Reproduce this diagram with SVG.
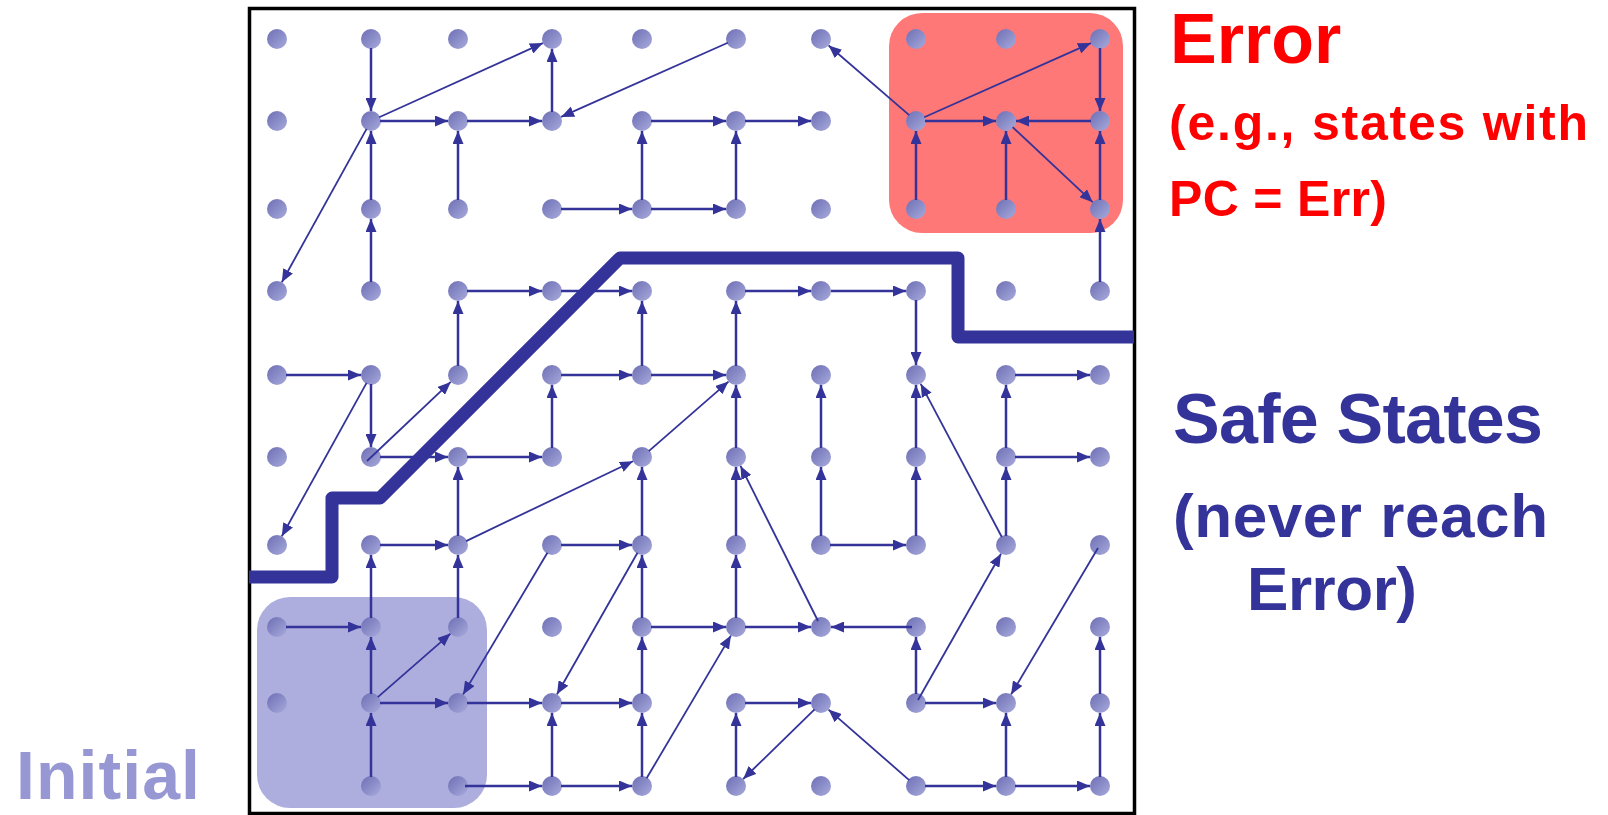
<svg xmlns="http://www.w3.org/2000/svg" width="1608" height="815" viewBox="0 0 1608 815">
<style>
.dot{fill:url(#dg)}
.e{stroke:#333399;stroke-width:2.5;fill:none;marker-end:url(#ah)}
.d{stroke:#333399;stroke-width:1.8;fill:none;marker-end:url(#ah)}
.lbl{font-family:"Liberation Sans",Arial,sans-serif;font-weight:bold}
</style>
<defs>
<linearGradient id="dg" x1="0" y1="0" x2="1" y2="1">
<stop offset="0" stop-color="#6c6eb4"/>
<stop offset="1" stop-color="#a8aadc"/>
</linearGradient>
<marker id="ah" markerUnits="userSpaceOnUse" markerWidth="13" markerHeight="11" viewBox="0 0 13 11" refX="13" refY="5.5" orient="auto">
<path d="M0,0 L13,5.5 L0,11 z" fill="#333399"/>
</marker>
</defs>
<rect width="1608" height="815" fill="#ffffff"/>
<rect x="249.5" y="8.5" width="885" height="805" fill="none" stroke="#000000" stroke-width="3.5"/>
<g id="error-region"><rect x="889" y="13" width="234" height="220" rx="33" fill="#ff7878"/></g>
<g id="initial-region"><rect x="257" y="597" width="230" height="211" rx="33" fill="#adaedd"/></g>
<g id="nodes">
<g id="n0-0"><circle class="dot" cx="277" cy="39" r="10"/></g>
<g id="n1-0"><circle class="dot" cx="371" cy="39" r="10"/></g>
<g id="n2-0"><circle class="dot" cx="458" cy="39" r="10"/></g>
<g id="n3-0"><circle class="dot" cx="552" cy="39" r="10"/></g>
<g id="n4-0"><circle class="dot" cx="642" cy="39" r="10"/></g>
<g id="n5-0"><circle class="dot" cx="736" cy="39" r="10"/></g>
<g id="n6-0"><circle class="dot" cx="821" cy="39" r="10"/></g>
<g id="n7-0"><circle class="dot" cx="916" cy="39" r="10"/></g>
<g id="n8-0"><circle class="dot" cx="1006" cy="39" r="10"/></g>
<g id="n9-0"><circle class="dot" cx="1100" cy="39" r="10"/></g>
<g id="n0-1"><circle class="dot" cx="277" cy="121" r="10"/></g>
<g id="n1-1"><circle class="dot" cx="371" cy="121" r="10"/></g>
<g id="n2-1"><circle class="dot" cx="458" cy="121" r="10"/></g>
<g id="n3-1"><circle class="dot" cx="552" cy="121" r="10"/></g>
<g id="n4-1"><circle class="dot" cx="642" cy="121" r="10"/></g>
<g id="n5-1"><circle class="dot" cx="736" cy="121" r="10"/></g>
<g id="n6-1"><circle class="dot" cx="821" cy="121" r="10"/></g>
<g id="n7-1"><circle class="dot" cx="916" cy="121" r="10"/></g>
<g id="n8-1"><circle class="dot" cx="1006" cy="121" r="10"/></g>
<g id="n9-1"><circle class="dot" cx="1100" cy="121" r="10"/></g>
<g id="n0-2"><circle class="dot" cx="277" cy="209" r="10"/></g>
<g id="n1-2"><circle class="dot" cx="371" cy="209" r="10"/></g>
<g id="n2-2"><circle class="dot" cx="458" cy="209" r="10"/></g>
<g id="n3-2"><circle class="dot" cx="552" cy="209" r="10"/></g>
<g id="n4-2"><circle class="dot" cx="642" cy="209" r="10"/></g>
<g id="n5-2"><circle class="dot" cx="736" cy="209" r="10"/></g>
<g id="n6-2"><circle class="dot" cx="821" cy="209" r="10"/></g>
<g id="n7-2"><circle class="dot" cx="916" cy="209" r="10"/></g>
<g id="n8-2"><circle class="dot" cx="1006" cy="209" r="10"/></g>
<g id="n9-2"><circle class="dot" cx="1100" cy="209" r="10"/></g>
<g id="n0-3"><circle class="dot" cx="277" cy="291" r="10"/></g>
<g id="n1-3"><circle class="dot" cx="371" cy="291" r="10"/></g>
<g id="n2-3"><circle class="dot" cx="458" cy="291" r="10"/></g>
<g id="n3-3"><circle class="dot" cx="552" cy="291" r="10"/></g>
<g id="n4-3"><circle class="dot" cx="642" cy="291" r="10"/></g>
<g id="n5-3"><circle class="dot" cx="736" cy="291" r="10"/></g>
<g id="n6-3"><circle class="dot" cx="821" cy="291" r="10"/></g>
<g id="n7-3"><circle class="dot" cx="916" cy="291" r="10"/></g>
<g id="n8-3"><circle class="dot" cx="1006" cy="291" r="10"/></g>
<g id="n9-3"><circle class="dot" cx="1100" cy="291" r="10"/></g>
<g id="n0-4"><circle class="dot" cx="277" cy="375" r="10"/></g>
<g id="n1-4"><circle class="dot" cx="371" cy="375" r="10"/></g>
<g id="n2-4"><circle class="dot" cx="458" cy="375" r="10"/></g>
<g id="n3-4"><circle class="dot" cx="552" cy="375" r="10"/></g>
<g id="n4-4"><circle class="dot" cx="642" cy="375" r="10"/></g>
<g id="n5-4"><circle class="dot" cx="736" cy="375" r="10"/></g>
<g id="n6-4"><circle class="dot" cx="821" cy="375" r="10"/></g>
<g id="n7-4"><circle class="dot" cx="916" cy="375" r="10"/></g>
<g id="n8-4"><circle class="dot" cx="1006" cy="375" r="10"/></g>
<g id="n9-4"><circle class="dot" cx="1100" cy="375" r="10"/></g>
<g id="n0-5"><circle class="dot" cx="277" cy="457" r="10"/></g>
<g id="n1-5"><circle class="dot" cx="371" cy="457" r="10"/></g>
<g id="n2-5"><circle class="dot" cx="458" cy="457" r="10"/></g>
<g id="n3-5"><circle class="dot" cx="552" cy="457" r="10"/></g>
<g id="n4-5"><circle class="dot" cx="642" cy="457" r="10"/></g>
<g id="n5-5"><circle class="dot" cx="736" cy="457" r="10"/></g>
<g id="n6-5"><circle class="dot" cx="821" cy="457" r="10"/></g>
<g id="n7-5"><circle class="dot" cx="916" cy="457" r="10"/></g>
<g id="n8-5"><circle class="dot" cx="1006" cy="457" r="10"/></g>
<g id="n9-5"><circle class="dot" cx="1100" cy="457" r="10"/></g>
<g id="n0-6"><circle class="dot" cx="277" cy="545" r="10"/></g>
<g id="n1-6"><circle class="dot" cx="371" cy="545" r="10"/></g>
<g id="n2-6"><circle class="dot" cx="458" cy="545" r="10"/></g>
<g id="n3-6"><circle class="dot" cx="552" cy="545" r="10"/></g>
<g id="n4-6"><circle class="dot" cx="642" cy="545" r="10"/></g>
<g id="n5-6"><circle class="dot" cx="736" cy="545" r="10"/></g>
<g id="n6-6"><circle class="dot" cx="821" cy="545" r="10"/></g>
<g id="n7-6"><circle class="dot" cx="916" cy="545" r="10"/></g>
<g id="n8-6"><circle class="dot" cx="1006" cy="545" r="10"/></g>
<g id="n9-6"><circle class="dot" cx="1100" cy="545" r="10"/></g>
<g id="n0-7"><circle class="dot" cx="277" cy="627" r="10"/></g>
<g id="n1-7"><circle class="dot" cx="371" cy="627" r="10"/></g>
<g id="n2-7"><circle class="dot" cx="458" cy="627" r="10"/></g>
<g id="n3-7"><circle class="dot" cx="552" cy="627" r="10"/></g>
<g id="n4-7"><circle class="dot" cx="642" cy="627" r="10"/></g>
<g id="n5-7"><circle class="dot" cx="736" cy="627" r="10"/></g>
<g id="n6-7"><circle class="dot" cx="821" cy="627" r="10"/></g>
<g id="n7-7"><circle class="dot" cx="916" cy="627" r="10"/></g>
<g id="n8-7"><circle class="dot" cx="1006" cy="627" r="10"/></g>
<g id="n9-7"><circle class="dot" cx="1100" cy="627" r="10"/></g>
<g id="n0-8"><circle class="dot" cx="277" cy="703" r="10"/></g>
<g id="n1-8"><circle class="dot" cx="371" cy="703" r="10"/></g>
<g id="n2-8"><circle class="dot" cx="458" cy="703" r="10"/></g>
<g id="n3-8"><circle class="dot" cx="552" cy="703" r="10"/></g>
<g id="n4-8"><circle class="dot" cx="642" cy="703" r="10"/></g>
<g id="n5-8"><circle class="dot" cx="736" cy="703" r="10"/></g>
<g id="n6-8"><circle class="dot" cx="821" cy="703" r="10"/></g>
<g id="n7-8"><circle class="dot" cx="916" cy="703" r="10"/></g>
<g id="n8-8"><circle class="dot" cx="1006" cy="703" r="10"/></g>
<g id="n9-8"><circle class="dot" cx="1100" cy="703" r="10"/></g>
<g id="n1-9"><circle class="dot" cx="371" cy="786" r="10"/></g>
<g id="n2-9"><circle class="dot" cx="458" cy="786" r="10"/></g>
<g id="n3-9"><circle class="dot" cx="552" cy="786" r="10"/></g>
<g id="n4-9"><circle class="dot" cx="642" cy="786" r="10"/></g>
<g id="n5-9"><circle class="dot" cx="736" cy="786" r="10"/></g>
<g id="n6-9"><circle class="dot" cx="821" cy="786" r="10"/></g>
<g id="n7-9"><circle class="dot" cx="916" cy="786" r="10"/></g>
<g id="n8-9"><circle class="dot" cx="1006" cy="786" r="10"/></g>
<g id="n9-9"><circle class="dot" cx="1100" cy="786" r="10"/></g>
</g>
<g id="connectors">
<line class="e" x1="371" y1="48" x2="371" y2="111"/>
<line class="d" x1="379.2" y1="117.3" x2="542.9" y2="43.1"/>
<line class="e" x1="380" y1="121" x2="448" y2="121"/>
<line class="e" x1="467" y1="121" x2="542" y2="121"/>
<line class="e" x1="552" y1="112" x2="552" y2="49"/>
<line class="d" x1="727.8" y1="42.7" x2="561.1" y2="116.9"/>
<line class="d" x1="366.6" y1="128.9" x2="281.8" y2="282.2"/>
<line class="e" x1="371" y1="200" x2="371" y2="131"/>
<line class="e" x1="458" y1="200" x2="458" y2="131"/>
<line class="e" x1="371" y1="282" x2="371" y2="219"/>
<line class="e" x1="642" y1="200" x2="642" y2="131"/>
<line class="e" x1="651" y1="121" x2="726" y2="121"/>
<line class="e" x1="561" y1="209" x2="632" y2="209"/>
<line class="e" x1="651" y1="209" x2="726" y2="209"/>
<line class="e" x1="745" y1="121" x2="811" y2="121"/>
<line class="e" x1="736" y1="200" x2="736" y2="131"/>
<line class="d" x1="909.2" y1="115.1" x2="828.6" y2="45.5"/>
<line class="d" x1="924.2" y1="117.3" x2="1090.9" y2="43.1"/>
<line class="e" x1="925" y1="121" x2="996" y2="121"/>
<line class="e" x1="1091" y1="121" x2="1016" y2="121"/>
<line class="e" x1="1100" y1="48" x2="1100" y2="111"/>
<line class="e" x1="916" y1="200" x2="916" y2="131"/>
<line class="e" x1="1006" y1="200" x2="1006" y2="131"/>
<line class="d" x1="1012.6" y1="127.1" x2="1092.7" y2="202.2"/>
<line class="e" x1="1100" y1="200" x2="1100" y2="131"/>
<line class="e" x1="1100" y1="282" x2="1100" y2="219"/>
<line class="e" x1="467" y1="291" x2="542" y2="291"/>
<line class="e" x1="561" y1="291" x2="632" y2="291"/>
<line class="e" x1="458" y1="366" x2="458" y2="301"/>
<line class="e" x1="642" y1="366" x2="642" y2="301"/>
<line class="e" x1="286" y1="375" x2="361" y2="375"/>
<line class="e" x1="371" y1="384" x2="371" y2="447"/>
<line class="d" x1="366.6" y1="382.9" x2="281.8" y2="536.2"/>
<line class="d" x1="367" y1="461" x2="450.7" y2="381.9"/>
<line class="e" x1="380" y1="457" x2="448" y2="457"/>
<line class="e" x1="467" y1="457" x2="542" y2="457"/>
<line class="e" x1="552" y1="448" x2="552" y2="385"/>
<line class="e" x1="561" y1="375" x2="632" y2="375"/>
<line class="e" x1="651" y1="375" x2="726" y2="375"/>
<line class="e" x1="458" y1="536" x2="458" y2="467"/>
<line class="e" x1="380" y1="545" x2="448" y2="545"/>
<line class="d" x1="466.1" y1="541.1" x2="633" y2="461.3"/>
<line class="e" x1="642" y1="536" x2="642" y2="467"/>
<line class="d" x1="648.8" y1="451.1" x2="728.5" y2="381.6"/>
<line class="e" x1="561" y1="545" x2="632" y2="545"/>
<line class="e" x1="371" y1="618" x2="371" y2="555"/>
<line class="e" x1="458" y1="618" x2="458" y2="555"/>
<line class="d" x1="547.4" y1="552.7" x2="463.1" y2="694.4"/>
<line class="d" x1="637.5" y1="552.8" x2="557" y2="694.3"/>
<line class="e" x1="642" y1="618" x2="642" y2="555"/>
<line class="e" x1="745" y1="291" x2="811" y2="291"/>
<line class="e" x1="831" y1="291" x2="906" y2="291"/>
<line class="e" x1="916" y1="300" x2="916" y2="365"/>
<line class="e" x1="736" y1="366" x2="736" y2="301"/>
<line class="e" x1="736" y1="448" x2="736" y2="385"/>
<line class="e" x1="821" y1="448" x2="821" y2="385"/>
<line class="e" x1="916" y1="448" x2="916" y2="385"/>
<line class="d" x1="1001.8" y1="537" x2="920.7" y2="383.8"/>
<line class="e" x1="1015" y1="375" x2="1090" y2="375"/>
<line class="e" x1="1006" y1="448" x2="1006" y2="385"/>
<line class="e" x1="1015" y1="457" x2="1090" y2="457"/>
<line class="e" x1="1006" y1="536" x2="1006" y2="467"/>
<line class="e" x1="736" y1="536" x2="736" y2="467"/>
<line class="e" x1="821" y1="536" x2="821" y2="467"/>
<line class="e" x1="830" y1="545" x2="906" y2="545"/>
<line class="e" x1="916" y1="536" x2="916" y2="467"/>
<line class="d" x1="818" y1="621" x2="740.5" y2="465.9"/>
<line class="d" x1="918" y1="700" x2="1001" y2="553.7"/>
<line class="d" x1="1098" y1="548" x2="1011.1" y2="694.4"/>
<line class="e" x1="286" y1="627" x2="361" y2="627"/>
<line class="e" x1="371" y1="694" x2="371" y2="637"/>
<line class="d" x1="377.8" y1="697.1" x2="450.5" y2="633.6"/>
<line class="e" x1="380" y1="703" x2="448" y2="703"/>
<line class="e" x1="371" y1="777" x2="371" y2="713"/>
<line class="e" x1="467" y1="703" x2="542" y2="703"/>
<line class="e" x1="561" y1="703" x2="632" y2="703"/>
<line class="e" x1="642" y1="694" x2="642" y2="637"/>
<line class="e" x1="552" y1="777" x2="552" y2="713"/>
<line class="e" x1="642" y1="777" x2="642" y2="713"/>
<line class="e" x1="465" y1="786" x2="542" y2="786"/>
<line class="e" x1="561" y1="786" x2="632" y2="786"/>
<line class="d" x1="646.6" y1="778.3" x2="730.9" y2="635.6"/>
<line class="e" x1="651" y1="627" x2="726" y2="627"/>
<line class="e" x1="736" y1="618" x2="736" y2="555"/>
<line class="e" x1="745" y1="627" x2="811" y2="627"/>
<line class="e" x1="912" y1="627" x2="831" y2="627"/>
<line class="e" x1="916" y1="694" x2="916" y2="637"/>
<line class="e" x1="925" y1="703" x2="996" y2="703"/>
<line class="e" x1="1006" y1="777" x2="1006" y2="713"/>
<line class="e" x1="1100" y1="777" x2="1100" y2="713"/>
<line class="e" x1="1100" y1="694" x2="1100" y2="637"/>
<line class="e" x1="925" y1="786" x2="996" y2="786"/>
<line class="e" x1="1015" y1="786" x2="1090" y2="786"/>
<line class="d" x1="909.2" y1="780.1" x2="828.5" y2="709.6"/>
<line class="e" x1="745" y1="703" x2="811" y2="703"/>
<line class="e" x1="736" y1="777" x2="736" y2="713"/>
<line class="d" x1="814.6" y1="709.3" x2="743.2" y2="779"/>
</g>
<g id="boundary">
<path d="M249,577 L332,577 L332,498 L380,498 L620,258 L958,258 L958,337 L1134,337" fill="none" stroke="#343399" stroke-width="13" stroke-linejoin="round"/>
</g>
<g id="labels">
<text class="lbl" x="1170" y="63" font-size="70" fill="#ff0000">Error</text>
<text class="lbl" x="1169" y="140" font-size="50" fill="#ff0000" textLength="419" lengthAdjust="spacing">(e.g., states with</text>
<text class="lbl" x="1169" y="216" font-size="50" fill="#ff0000" textLength="218" lengthAdjust="spacing">PC = Err)</text>
<text class="lbl" x="1173" y="443" font-size="70" fill="#333399" textLength="370" lengthAdjust="spacing">Safe States</text>
<text class="lbl" x="1173" y="537" font-size="62" fill="#333399" textLength="375" lengthAdjust="spacing">(never reach</text>
<text class="lbl" x="1247" y="610" font-size="62" fill="#333399" textLength="170" lengthAdjust="spacing">Error)</text>
<text class="lbl" x="16" y="799" font-size="68" fill="#9797d4" textLength="184" lengthAdjust="spacing">Initial</text>
</g>
</svg>
